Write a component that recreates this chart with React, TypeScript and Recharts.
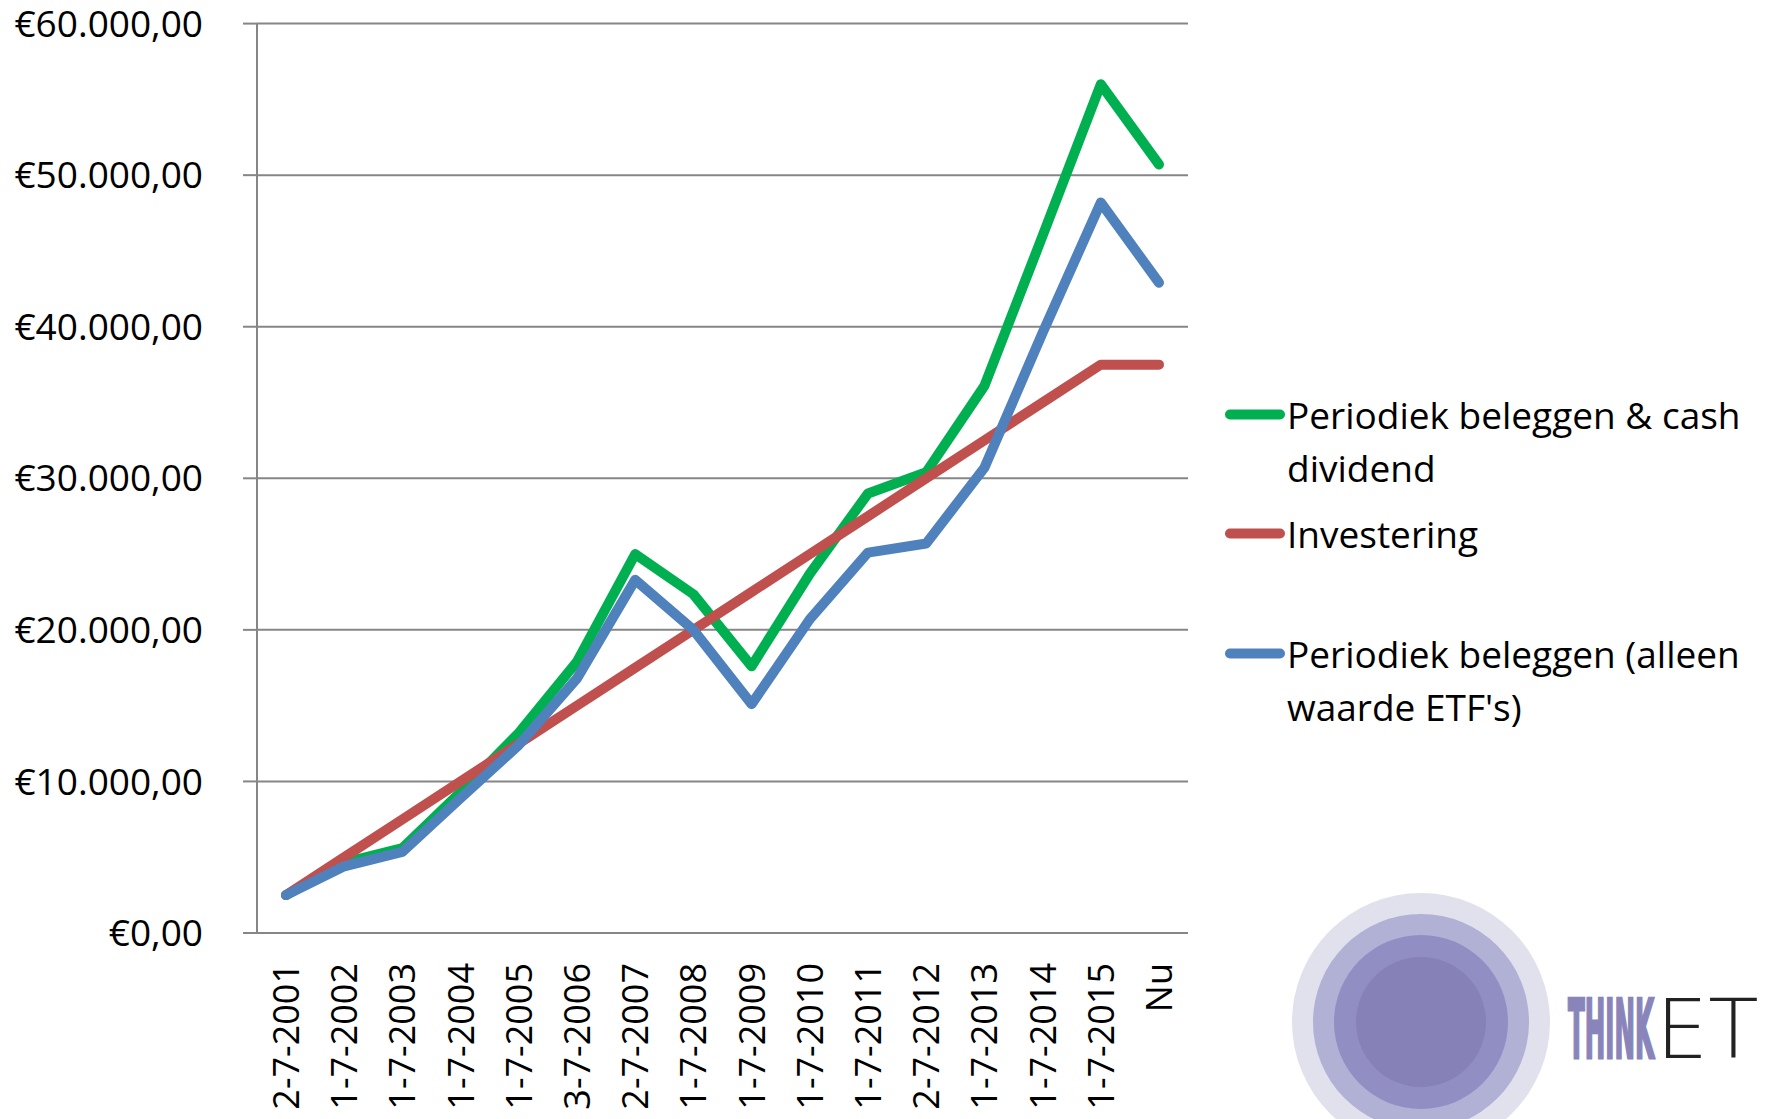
import React from 'react';
import { LineChart, Line, XAxis, YAxis, CartesianGrid, Legend } from 'recharts';

const categories = [
  '2-7-2001', '1-7-2002', '1-7-2003', '1-7-2004', '1-7-2005', '3-7-2006', '2-7-2007', '1-7-2008',
  '1-7-2009', '1-7-2010', '1-7-2011', '2-7-2012', '1-7-2013', '1-7-2014', '1-7-2015', 'Nu',
];

const dividendSeries = [2500, 4650, 5600, 9300, 13200, 17900, 25000, 22350, 17600, 23700, 29000, 30400, 36100, 46000, 56000, 50700];
const investeringSeries = [2500, 5000, 7500, 10000, 12500, 15000, 17500, 20000, 22500, 25000, 27500, 30000, 32500, 35000, 37500, 37500];
const etfSeries = [2500, 4400, 5350, 8900, 12400, 16800, 23300, 20000, 15100, 20700, 25100, 25700, 30700, 39600, 48200, 42900];

const yTicks = [0, 10000, 20000, 30000, 40000, 50000, 60000];
const boundaryTicks = [0, 1, 2, 3, 4, 5, 6, 7, 8, 9, 10, 11, 12, 13, 14, 15, 16];

const seriesNames = {
  dividend: 'Periodiek beleggen & cash dividend',
  investering: 'Investering',
  etf: "Periodiek beleggen (alleen waarde ETF's)",
};
const legendOrder = [seriesNames.dividend, seriesNames.investering, seriesNames.etf];

const data = categories.map((cat, i) => ({
  cat,
  dividend: dividendSeries[i],
  investering: investeringSeries[i],
  etf: etfSeries[i],
}));

const FONT = "'Open Sans', 'Noto Sans', sans-serif";
const GRID = '#868686';

function formatEuro(v: number): string {
  const s = Math.round(v).toString().replace(/\B(?=(\d{3})+(?!\d))/g, '.');
  return '\u20AC' + s + ',00';
}

const XTick = (props: any) => {
  const { x, y, payload } = props;
  return (
    <text
      transform={`translate(${x},${y}) rotate(-90)`}
      x={0}
      y={0}
      dy="0.36em"
      textAnchor="end"
      fontSize={36}
      fontFamily={FONT}
      fill="#000"
    >
      {payload.value}
    </text>
  );
};

const renderLegend = (props: any) => {
  const items = [...(props.payload || [])].sort(
    (a: any, b: any) => legendOrder.indexOf(a.value) - legendOrder.indexOf(b.value)
  );
  return (
    <div style={{ fontFamily: FONT, fontSize: 37, color: '#000' }}>
      {items.map((p: any) => (
        <div key={p.value} style={{ height: 119.5, display: 'flex', alignItems: 'flex-start' }}>
          <svg width={67} height={53} style={{ flex: 'none', display: 'block' }}>
            <line x1={10} y1={26.5} x2={60} y2={26.5} stroke={p.color} strokeWidth={10} strokeLinecap="round" />
          </svg>
          <div style={{ width: 474, lineHeight: '53px', whiteSpace: 'normal' }}>{p.value}</div>
        </div>
      ))}
    </div>
  );
};

const Logo = () => (
  <svg
    width={1765}
    height={1119}
    style={{ position: 'absolute', left: 0, top: 0, pointerEvents: 'none' }}
  >
    <circle cx={1421} cy={1022} r={129} fill="#E1E1EE" />
    <circle cx={1421} cy={1022} r={108} fill="#B1B0D5" />
    <circle cx={1421} cy={1022} r={87} fill="#908EC3" />
    <circle cx={1421} cy={1022} r={65} fill="#8682B8" />
    <text y={1058} fontSize={82}>
      <tspan
        x={1568}
        fontFamily="'DejaVu Sans Condensed', 'DejaVu Sans', sans-serif"
        fontWeight={700}
        fill="#8985BA"
        stroke="#8985BA"
        strokeWidth={3}
        textLength={86}
        lengthAdjust="spacingAndGlyphs"
      >
        THINK
      </tspan>
      <tspan
        x={1656}
        fontFamily="'DejaVu Sans ExtraLight', 'DejaVu Sans', sans-serif"
        fontWeight={200}
        fill="#222"
        textLength={150}
        lengthAdjust="spacingAndGlyphs"
      >
        ETF
      </tspan>
    </text>
  </svg>
);

export default function App() {
  return (
    <div
      style={{
        position: 'absolute',
        left: 0,
        top: 0,
        width: 1765,
        height: 1119,
        overflow: 'hidden',
        background: '#fff',
      }}
    >
      <LineChart
        width={1765}
        height={1119}
        data={data}
        margin={{ top: 23.6, right: 577, bottom: 0, left: 0 }}
      >
        <CartesianGrid vertical={false} stroke={GRID} strokeWidth={2} />
        <XAxis
          xAxisId={0}
          type="number"
          domain={[0, 16]}
          ticks={boundaryTicks}
          allowDataOverflow
          tick={false}
          tickSize={14}
          tickLine={{ stroke: GRID, strokeWidth: 2 }}
          axisLine={{ stroke: GRID, strokeWidth: 2 }}
          height={0}
        />
        <XAxis
          xAxisId="cat"
          dataKey="cat"
          type="category"
          interval={0}
          padding={{ left: 29, right: 29 }}
          tickLine={false}
          axisLine={false}
          tickSize={0}
          tickMargin={30}
          tick={<XTick />}
          height={186}
        />
        <YAxis
          domain={[0, 60000]}
          ticks={yTicks}
          width={257}
          tickSize={14}
          tickMargin={40}
          tickFormatter={formatEuro}
          tick={{ fontSize: 37, fontFamily: FONT, fill: '#000' }}
          tickLine={{ stroke: GRID, strokeWidth: 2 }}
          axisLine={{ stroke: GRID, strokeWidth: 2 }}
        />
        <Legend
          layout="vertical"
          align="center"
          verticalAlign="middle"
          content={renderLegend}
          wrapperStyle={{ left: 1220, top: 387.5, width: 545 }}
        />
        <Line
          xAxisId="cat"
          dataKey="dividend"
          name={seriesNames.dividend}
          stroke="#00B050"
          strokeWidth={10}
          strokeLinecap="round"
          strokeLinejoin="round"
          dot={false}
          activeDot={false}
          isAnimationActive={false}
        />
        <Line
          xAxisId="cat"
          dataKey="investering"
          name={seriesNames.investering}
          stroke="#C0504D"
          strokeWidth={10}
          strokeLinecap="round"
          strokeLinejoin="round"
          dot={false}
          activeDot={false}
          isAnimationActive={false}
        />
        <Line
          xAxisId="cat"
          dataKey="etf"
          name={seriesNames.etf}
          stroke="#4F81BD"
          strokeWidth={10}
          strokeLinecap="round"
          strokeLinejoin="round"
          dot={false}
          activeDot={false}
          isAnimationActive={false}
        />
      </LineChart>
      <Logo />
    </div>
  );
}
